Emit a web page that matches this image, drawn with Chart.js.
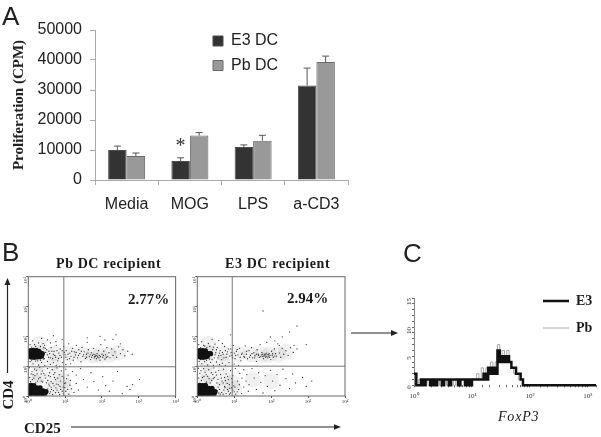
<!DOCTYPE html>
<html><head><meta charset="utf-8">
<script src="https://cdn.jsdelivr.net/npm/chart.js@4/dist/chart.umd.min.js"></script>
<style>
html,body{margin:0;padding:0;background:#fff;width:601px;height:437px;overflow:hidden}
body{filter:blur(.4px)}
canvas{position:absolute}
.t{position:absolute;white-space:nowrap;line-height:1;color:#1a1a1a}
.l{font-family:"Liberation Sans",sans-serif;font-size:26px;color:#222}
.s{font-family:"Liberation Serif",serif;font-weight:bold}
svg{position:absolute;left:0;top:0}
</style></head><body>
<canvas id="a" width="360" height="220" style="left:0;top:0"></canvas>
<canvas id="b1" width="170" height="140" style="left:10px;top:270px"></canvas>
<canvas id="b2" width="170" height="140" style="left:180px;top:270px"></canvas>
<canvas id="c" width="206" height="120" style="left:395px;top:290px"></canvas>
<svg width="601" height="437">
<g stroke="#222" stroke-width="1.2" fill="#222">
<line x1="7.5" y1="373" x2="7.5" y2="284"/><path d="M7.5 278l-3 7h6z" stroke="none"/>
<line x1="71" y1="427" x2="335" y2="427"/><path d="M341 427l-7-2.8v5.6z" stroke="none"/>
<line x1="351" y1="333" x2="391" y2="333"/><path d="M398 333l-7-3v6z" stroke="none"/>
</g></svg>
<div class="t l" style="left:2px;top:3px">A</div>
<div class="t l" style="left:2px;top:239px">B</div>
<div class="t l" style="left:403px;top:240px">C</div>
<div class="t s" style="left:56px;top:257px;font-size:14px;letter-spacing:.6px">Pb DC recipient</div>
<div class="t s" style="left:225px;top:257px;font-size:14px;letter-spacing:.6px">E3 DC recipient</div>
<div class="t s" style="left:128px;top:292px;font-size:15px">2.77%</div>
<div class="t s" style="left:287px;top:291px;font-size:15px">2.94%</div>
<div class="t s" style="left:24px;top:421px;font-size:15px">CD25</div>
<div class="t s" style="left:7.5px;top:395px;font-size:15px;transform:translate(-50%,-50%) rotate(-90deg)">CD4</div>
<div class="t" style="left:498px;top:410px;font-family:'Liberation Serif',serif;font-style:italic;font-size:14px;letter-spacing:.8px">FoxP3</div>
<div class="t" style="left:175.5px;top:135px;font-family:'Liberation Serif',serif;font-size:20px;color:#333">*</div>
<script>
const categories=["Media","MOG","LPS","a-CD3"];
const e3Values=[10000,6300,11000,31500];
const pbValues=[8000,14800,13100,39300];
const e3ErrTop=[11300,7400,11700,37300];
const pbErrTop=[9000,15800,14900,41300];
const yTicksA=[0,10000,20000,30000,40000,50000];

// Flow cytometry dots, read in log10 decades [x,y]
const pbBlobs=[[.06,1.31],[.14,1.3],[.22,1.31],[.3,1.32],[.36,1.34],[.06,1.42],[.14,1.42],[.22,1.44],[.3,1.43],[.38,1.42],[.06,1.52],[.14,1.53],[.22,1.52],[.29,1.5],
[.06,.08],[.14,.09],[.22,.08],[.3,.09],[.38,.08],[.45,.09],[.06,.18],[.14,.19],[.22,.18],[.31,.19],[.4,.17],[.48,.15],[.06,.28],[.14,.28],[.23,.27],[.32,.27],[.07,.36],[.15,.35]];
const pbHaze=[[.3,1.45],[.7,1.42],[1.1,1.42],[1.45,1.4],[1.75,1.36],[1.95,1.36],[2.2,1.38],[2.45,1.45],[.3,.7],[.7,.65],[.95,.5],[.2,.45],[.6,.2],[1,.25],[.25,1.1],[.7,1.12],[.3,1.75]];
const pbDots=[[.5,1.55],[.55,1.3],[.58,1.42],[.62,1.62],[.66,1.25],[.7,1.5],[.72,1.36],[.76,1.7],[.8,1.18],[.83,1.44],[.87,1.58],[.9,1.3],[.93,1.12],[.96,1.66],[1,1.38],[1.03,1.52],[1.06,1.22],[1.1,1.75],[1.13,1.44],[1.16,1.33],[1.2,1.6],[1.22,1.2],[1.25,1.48],[1.28,1.38],[1.31,1.7],[1.34,1.28],[1.37,1.55],[1.4,1.42],[1.43,1.15],[1.46,1.63],[1.48,1.33],[1.52,1.48],[1.55,1.26],[1.58,1.4],[1.6,1.8],[1.63,1.55],[1.66,1.32],[1.69,1.22],[1.71,1.45],[1.74,1.36],[1.77,1.6],[1.79,1.28],[1.81,1.38],[1.83,1.33],[1.85,1.25],[1.87,1.42],[1.89,1.3],[1.91,1.52],[1.93,1.36],[1.95,1.2],[1.97,1.72],[2,1.4],[2.02,1.3],[2.05,1.5],[2.08,1.24],[2.1,1.38],[2.13,1.62],[2.16,1.32],[2.19,1.45],[2.22,1.28],[2.26,1.58],[2.3,1.36],[2.35,1.48],[2.4,1.3],[2.45,1.65],[2.5,1.42],[2.57,1.55],[2.62,1.35],[2.7,1.5],[2.82,1.4],[1.95,2.0],[2.08,1.88],[2.3,1.9],[2.38,2.05],[2.5,1.75],[1.6,1.95],
[1.84,1.36],[1.88,1.34],[1.92,1.28],[1.8,1.32],[1.76,1.4],[1.72,1.3],[1.96,1.32],[2.04,1.36],[2.12,1.3],[1.68,1.38],[1.62,1.44],[1.58,1.3],[1.5,1.38],[1.44,1.5],[1.36,1.36],[1.3,1.46],[1.24,1.3],[1.18,1.5],[1.12,1.25],[1.08,1.4],[1.02,1.3],[.98,1.46],[.92,1.52],[.86,1.36],[.82,1.26],[.78,1.52],[.74,1.3],[.68,1.4],[.64,1.5],[.6,1.28],[.56,1.5],[.52,1.38],[.47,1.46],[.44,1.25],[.46,1.6],[.42,1.62],
[.05,1.72],[.12,1.85],[.2,1.66],[.28,1.78],[.36,1.93],[.44,1.7],[.52,1.88],[.6,1.78],[.68,2.02],[.75,1.82],[.92,1.9],[.05,1.15],[.13,1.08],[.2,1.17],[.28,1.04],[.36,1.13],[.45,1.02],[.52,1.16],[.6,1.06],[.68,1.12],[.76,1.03],[.85,1],[1.02,1.05],[1.15,1.08],[.09,1.64],[.17,1.72],[.25,1.6],[.33,1.66],[.4,1.76],[.09,1.2],[.17,1.24],[.25,1.18],[.33,1.2],[.41,1.24],
[.03,.95],[.1,.82],[.17,.9],[.24,.74],[.31,.96],[.38,.84],[.45,.7],[.52,.92],[.58,.78],[.65,.88],[.71,.62],[.78,.94],[.84,.72],[.9,.84],[.96,.6],[1.02,.9],[1.08,.7],[1.14,.52],[1.2,.82],[.04,.62],[.11,.55],[.18,.68],[.25,.5],[.32,.62],[.39,.47],[.46,.6],[.53,.52],[.6,.65],[.67,.42],[.74,.55],[.81,.38],[.88,.5],[.95,.3],[1.01,.44],[1.07,.22],[1.13,.36],[.62,.3],[.68,.18],[.75,.27],[.82,.12],[.88,.22],[.95,.08],[1.02,.16],[1.1,.06],[1.17,.24],[1.24,.12],[1.3,.42],[1.36,.2],[.58,.08],[.66,.05],[.74,.11],[.06,.48],[.13,.72],[.2,.44],[.35,.74],[.56,.4],[.72,.78],
[.08,.74],[.15,.6],[.22,.86],[.28,.58],[.35,.5],[.42,.76],[.49,.44],[.55,.68],[.62,.48],[.69,.72],[.76,.4],[.8,.6],[.86,.32],[.92,.66],[.98,.42],[1.04,.58],[.6,.14],[.7,.34],[.78,.2],[.85,.05],[.92,.16],[.99,.28],[.53,.24],[.57,.34],[.63,.22],
[1.3,.7],[1.42,.92],[1.5,.55],[1.6,.3],[1.7,.78],[1.78,.48],[1.9,.2],[2.02,.65],[2.1,.35],[2.2,.16],[2.3,.5],[2.42,.82],[2.55,.08],[2.68,.32],[2.76,.22],[2.83,.38],[3.02,.55]];

const e3Blobs=[[.06,1.31],[.13,1.3],[.2,1.31],[.27,1.33],[.05,1.41],[.13,1.43],[.21,1.42],[.3,1.42],[.36,1.42],[.06,1.52],[.14,1.52],[.22,1.51],[.06,.08],[.14,.08],[.22,.09],[.3,.08],[.38,.09],[.46,.09],[.06,.17],[.14,.18],[.22,.18],[.3,.19],[.4,.17],[.48,.15],[.06,.27],[.14,.27],[.22,.28],[.31,.26],[.4,.26],[.06,.36],[.14,.35],[.22,.36]];
const e3Haze=[[.3,1.45],[.7,1.42],[1.1,1.42],[1.45,1.4],[1.75,1.38],[1.95,1.38],[2.2,1.4],[2.4,1.48],[.3,.7],[.7,.62],[.95,.45],[.2,.45],[.6,.2],[1,.25],[.25,1.1],[.7,1.1],[.3,1.75],[1.5,.55],[2,.5]];
const e3Dots=[[.42,1.55],[.46,1.28],[.5,1.45],[.54,1.63],[.58,1.35],[.62,1.52],[.66,1.22],[.7,1.4],[.74,1.66],[.78,1.3],[.82,1.48],[.86,1.12],[.9,1.58],[.94,1.36],[.98,1.7],[1.02,1.25],[1.06,1.5],[1.1,1.38],[1.14,1.6],[1.18,1.18],[1.22,1.44],[1.26,1.32],[1.3,1.68],[1.33,1.4],[1.36,1.25],[1.4,1.52],[1.44,1.36],[1.47,1.62],[1.5,1.28],[1.53,1.45],[1.56,1.35],[1.6,1.16],[1.62,1.55],[1.65,1.4],[1.68,1.3],[1.7,1.72],[1.73,1.38],[1.75,1.46],[1.77,1.33],[1.79,1.25],[1.81,1.4],[1.83,1.35],[1.85,1.3],[1.87,1.44],[1.89,1.38],[1.91,1.28],[1.93,1.34],[1.95,1.42],[1.97,1.36],[1.99,1.22],[2.01,1.5],[2.03,1.37],[2.06,1.3],[2.09,1.58],[2.12,1.42],[2.15,1.34],[2.18,1.75],[2.22,1.44],[2.26,1.3],[2.3,1.6],[2.34,1.4],[2.4,1.52],[2.46,1.36],[2.52,1.62],[2.6,1.46],[2.7,1.58],[1.88,1.8],[1.98,1.98],[2.1,1.85],[2.3,1.98],[2.22,1.7],[2.62,1.7],[2.95,1.72],[2.5,2.15],[2.7,2.35],[1.78,2.85],
[1.84,1.4],[1.88,1.33],[1.92,1.4],[1.8,1.34],[1.76,1.4],[1.72,1.32],[1.96,1.3],[2.04,1.42],[2.1,1.34],[1.66,1.36],[1.6,1.4],[1.55,1.28],[1.48,1.42],[1.42,1.3],[1.34,1.5],[1.28,1.3],[1.2,1.4],[1.16,1.3],[1.08,1.56],[1.04,1.36],[1,1.44],[.96,1.28],[.92,1.46],[.88,1.34],[.84,1.58],[.8,1.4],[.76,1.52],[.72,1.28],[.68,1.46],[.64,1.36],[.6,1.44],[.56,1.28],[.52,1.55],[.48,1.38],[.44,1.64],
[.04,1.72],[.12,1.82],[.2,1.68],[.3,1.76],[.4,1.9],[.48,1.74],[.58,1.86],[.68,1.76],[.9,2.05],[.05,1.16],[.12,1.08],[.2,1.15],[.28,1.04],[.36,1.13],[.44,1.03],[.52,1.14],[.6,1.05],[.68,1.1],[.76,1.03],[1,1.07],[1.12,1.03],[.09,1.62],[.17,1.7],[.26,1.62],[.34,1.66],[.09,1.22],[.17,1.22],[.25,1.2],[.33,1.24],[.4,1.22],
[.03,.93],[.1,.85],[.17,.92],[.24,.72],[.31,.88],[.38,.78],[.45,.94],[.52,.7],[.58,.86],[.65,.6],[.71,.9],[.78,.74],[.84,.55],[.9,.85],[.96,.68],[1.03,.92],[1.09,.5],[1.15,.76],[1.21,.6],[.04,.6],[.11,.52],[.18,.66],[.25,.47],[.32,.58],[.39,.52],[.46,.62],[.53,.44],[.6,.38],[.67,.5],[.74,.32],[.81,.42],[.88,.26],[.95,.46],[1.02,.3],[1.08,.14],[1.14,.38],[.6,.22],[.66,.12],[.72,.2],[.78,.08],[.84,.16],[.9,.1],[.96,.2],[1.04,.06],[1.12,.22],[1.2,.08],[1.26,.3],[1.32,.5],[1.38,.16],[.56,.3],[.62,.06],[.74,.62],[.42,.72],
[.07,.76],[.14,.62],[.21,.8],[.28,.66],[.35,.44],[.43,.58],[.5,.8],[.56,.56],[.63,.72],[.7,.44],[.76,.52],[.82,.66],[.87,.38],[.93,.58],[.99,.34],[.54,.18],[.58,.1],[.7,.06],[.75,.28],[.82,.22],[.87,.06],[.93,.28],[1,.14],
[1.26,.88],[1.34,.72],[1.4,.38],[1.48,.92],[1.54,.6],[1.6,.22],[1.66,.78],[1.72,.46],[1.78,.1],[1.84,.68],[1.9,.32],[1.98,.86],[2.04,.5],[2.1,.18],[2.16,.72],[2.24,.36],[2.32,.9],[2.4,.58],[2.5,.25],[2.58,.74],[2.66,.44],[2.85,.62],[2.95,.32],[3.1,.5]];
const pbGateX=.965, pbGateY=.98, e3GateX=.946, e3GateY=1.0;

// Panel C histogram: channel position in decades and counts
const foxChannels=[0,.04,.08,.12,.16,.2,.24,.28,.32,.36,.4,.44,.48,.52,.56,.6,.64,.68,.72,.76,.8,.84,.88,.92,.96,1,1.04,1.08,1.12,1.16,1.2,1.24,1.28,1.32,1.36,1.4,1.44,1.48,1.52,1.56,1.6,1.64,1.68,1.72,1.76,1.8,1.84,1.88,1.92,1.96,2,3.14];
const foxE3=[2,0,0,1,0,1,1,0,1,0,1,1,0,1,1,0,1,1,1,0,1,1,0,1,0,1,1,1,1,1,2,1,3,2,3,2,6,4,5,4,5,4,3,3,2,2,1,0,0,0,0,0];
const foxPb=[1,0,1,0,1,1,0,1,1,0,1,0,1,1,0,1,1,0,1,1,1,1,0,1,1,1,1,2,1,3,2,3,2,4,3,4,7,4,6,5,6,4,3,2,2,1,1,0,0,0,0,0];

const place=(w,h)=>({w:s=>{s.width=w},h:s=>{s.height=h}});

const errorBars={id:'errorBars',afterDatasetsDraw(ch){
  const c=ch.ctx,y=ch.scales.y;
  [e3ErrTop,pbErrTop].forEach((tops,i)=>{
    ch.getDatasetMeta(i).data.forEach((b,j)=>{
      const t=y.getPixelForValue(tops[j]),v=y.getPixelForValue(ch.data.datasets[i].data[j]);
      c.save();c.strokeStyle='#555';c.lineWidth=1;c.beginPath();
      c.moveTo(b.x,v);c.lineTo(b.x,t);c.moveTo(b.x-3.5,t);c.lineTo(b.x+3.5,t);c.stroke();c.restore();
    });
  });
}};
const legendAt=(x,y,w,h)=>({id:'legendAt',afterLayout(ch){const l=ch.legend;l.left=x;l.top=y;l.right=x+w;l.bottom=y+h;}});
const frame={id:'frame',afterDatasetsDraw(ch){const a=ch.chartArea,c=ch.ctx;c.save();c.strokeStyle='#666';c.lineWidth=1;c.strokeRect(a.left,a.top,a.right-a.left,a.bottom-a.top);c.restore();}};

new Chart(document.getElementById('a'),{type:'bar',
 data:{labels:categories,datasets:[
  {label:'E3 DC',data:e3Values,backgroundColor:'#333333',borderColor:'#4d4d4d',borderWidth:1},
  {label:'Pb DC',data:pbValues,backgroundColor:'#999999',borderColor:'#6a6a6a',borderWidth:1}]},
 options:{responsive:false,animation:false,
  layout:{padding:{top:30,right:12,left:0,bottom:0}},
  datasets:{bar:{categoryPercentage:.585,barPercentage:1}},
  plugins:{tooltip:{enabled:false},title:{display:false},
   legend:{position:'chartArea',align:'start',labels:{boxWidth:10,boxHeight:10,padding:8.5,color:'#222',font:{family:'"Liberation Sans"',size:16}}}},
  scales:{
   x:{afterFit:place(0,40).h,grid:{drawOnChartArea:false,tickLength:5,color:'#aaa'},border:{color:'#aaa'},
      ticks:{color:'#222',padding:10,maxRotation:0,font:{family:'"Liberation Sans"',size:16}}},
   y:{afterFit:place(95,0).w,min:0,max:50000,grid:{drawOnChartArea:false,tickLength:5,color:'#aaa'},border:{color:'#aaa'},
      afterBuildTicks:s=>{s.ticks=yTicksA.map(v=>({value:v}))},
      title:{display:true,text:'Proliferation (CPM)',color:'#222',padding:{top:10,bottom:0},font:{family:'"Liberation Serif"',weight:'bold',size:15}},
      ticks:{color:'#222',padding:8,callback:v=>String(v),font:{family:'"Liberation Sans"',size:16}}}}
 },plugins:[errorBars,legendAt(204.5,24.5,90,80)]});

const flow=(id,blobs,haze,dots,gx,gy)=>new Chart(document.getElementById(id),{type:'scatter',
 data:{datasets:[
  {label:'gate x',data:[{x:gx,y:0},{x:gx,y:4}],showLine:true,borderColor:'#777',borderWidth:1,pointRadius:0},
  {label:'gate y',data:[{x:0,y:gy},{x:4,y:gy}],showLine:true,borderColor:'#777',borderWidth:1,pointRadius:0},
  {label:'dense',data:blobs.map(p=>({x:p[0],y:p[1]})),backgroundColor:'#111',borderWidth:0,pointRadius:2.6},
  {label:'dots',data:dots.map(p=>({x:p[0],y:p[1]})),backgroundColor:'#333',borderWidth:0,pointRadius:.65},
  {label:'haze',data:haze.map(p=>({x:p[0],y:p[1]})),backgroundColor:'rgba(60,60,60,.08)',borderWidth:0,pointRadius:8}]},
 options:{responsive:false,animation:false,
  layout:{autoPadding:false,padding:{top:6.7,right:id==='b1'?4:5,left:0,bottom:0}},
  plugins:{legend:{display:false},tooltip:{enabled:false}},
  scales:{
   x:{min:0,max:4,afterFit:place(0,14).h,grid:{drawOnChartArea:false,tickLength:2,color:'#555'},border:{display:false},
      ticks:{stepSize:1,padding:1,maxRotation:0,color:'#333',font:{family:'"Liberation Serif"',size:5},callback:v=>'10'+'⁰¹²³⁴'[v]}},
   y:{min:0,max:4,afterFit:place(id==='b1'?18.3:17.3,0).w,grid:{drawOnChartArea:false,tickLength:2,color:'#555'},border:{display:false},
      ticks:{stepSize:1,padding:1,minRotation:90,maxRotation:90,color:'#333',font:{family:'"Liberation Serif"',size:5},callback:v=>'10'+'⁰¹²³⁴'[v]}}}
 },plugins:[frame]});
flow('b1',pbBlobs,pbHaze,pbDots,pbGateX,pbGateY);
flow('b2',e3Blobs,e3Haze,e3Dots,e3GateX,e3GateY);

const toSteps=ys=>foxChannels.map((d,i)=>({x:Math.pow(10,d),y:ys[i]}));
new Chart(document.getElementById('c'),{type:'scatter',
 data:{datasets:[
  {label:'E3',data:toSteps(foxE3),showLine:true,stepped:true,borderColor:'#111',borderWidth:2.5,pointRadius:0,clip:false},
  {label:'Pb',data:toSteps(foxPb),showLine:true,stepped:true,borderColor:'#a8a8a8',borderWidth:1,pointRadius:0,clip:false}]},
 options:{responsive:false,animation:false,
  layout:{autoPadding:false,padding:{top:8,right:-3,left:0,bottom:0}},
  plugins:{tooltip:{enabled:false},
   legend:{position:'chartArea',align:'start',labels:{usePointStyle:true,pointStyle:'line',pointStyleWidth:26,padding:13,color:'#1a1a1a',font:{family:'"Liberation Serif"',weight:'bold',size:14}}}},
  scales:{
   x:{type:'logarithmic',min:1,max:1380,afterFit:place(0,24.7).h,grid:{drawOnChartArea:false,tickLength:2,color:'#666'},border:{display:false},
      ticks:{autoSkip:false,maxRotation:0,padding:5,color:'#333',font:{family:'"Liberation Serif"',size:7},
       callback:v=>({1:'10⁰',10:'10¹',100:'10²',1000:'10³'}[v]||'')}},
   y:{min:0,max:15,afterFit:place(19,0).w,grid:{drawOnChartArea:false,tickLength:2,color:'#666'},border:{color:'#888',dash:[1,1]},
      ticks:{stepSize:1,autoSkip:false,padding:3,minRotation:90,maxRotation:90,color:'#333',font:{family:'"Liberation Serif"',size:7},
       callback:v=>v%5===0?String(v):''}}}
 },plugins:[legendAt(135,-9,64,110)]});
</script>
</body></html>
